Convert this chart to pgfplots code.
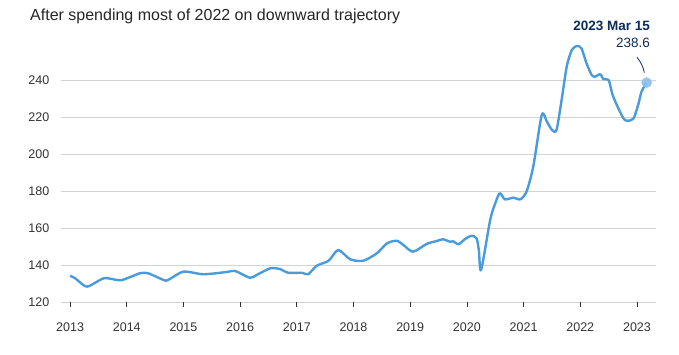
\documentclass[border=0pt]{standalone}
\usepackage{pgfplots}
\pgfplotsset{compat=1.18}
\usepackage{fontspec}
\setmainfont{Liberation Sans}
\definecolor{lineblue}{HTML}{4A9BDC}
\definecolor{dotblue}{HTML}{8CC0EC}
\definecolor{navy}{HTML}{0D2C5C}
\definecolor{gridgray}{HTML}{D3D3D3}
\definecolor{ticktext}{HTML}{333333}
\pgfplotstableread{
year value
2013.00 134.2
2013.09 132.8
2013.26 128.6
2013.35 128.8
2013.59 132.8
2013.76 132.3
2013.91 131.8
2014.23 135.5
2014.38 135.5
2014.65 131.9
2014.73 131.9
2015.00 136.4
2015.35 135.0
2015.76 136.2
2015.91 136.8
2016.17 133.1
2016.29 134.6
2016.53 138.2
2016.70 137.8
2016.85 135.8
2017.09 135.8
2017.20 135.0
2017.35 139.6
2017.56 142.3
2017.73 148.1
2017.94 143.1
2018.17 142.3
2018.41 146.3
2018.59 151.7
2018.76 153.1
2018.88 150.8
2019.05 147.2
2019.29 151.4
2019.47 153.0
2019.58 153.9
2019.70 152.6
2019.76 152.8
2019.85 151.2
2019.97 154.1
2020.08 155.8
2020.17 154.4
2020.21 148.0
2020.25 137.3
2020.41 164.3
2020.50 173.4
2020.58 178.8
2020.67 175.5
2020.82 176.4
2020.94 175.5
2021.05 179.6
2021.17 193.2
2021.32 221.1
2021.41 217.5
2021.50 213.0
2021.58 213.0
2021.67 229.2
2021.76 247.2
2021.85 256.2
2021.94 258.4
2022.02 257.1
2022.11 249.0
2022.20 242.7
2022.26 241.8
2022.35 243.1
2022.41 240.4
2022.50 240.0
2022.58 231.0
2022.76 219.3
2022.85 218.0
2022.94 219.3
2023.02 226.5
2023.08 233.7
2023.17 238.6
}\cpidata
\begin{document}
\begin{tikzpicture}
\useasboundingbox (0,0) rectangle (679bp,355bp);
\node[anchor=base west, inner sep=0, text=black!85, font=\fontsize{16bp}{19bp}\selectfont] at (30bp,334bp) {After spending most of 2022 on downward trajectory};
\begin{axis}[at={(61bp,53bp)}, anchor=south west, scale only axis,
  width=595bp, height=222bp,
  xmin=2012.84, xmax=2023.335, ymin=120, ymax=240, clip=false,
  axis line style={draw=none},
  xtick={2013,...,2023}, ytick={120,140,...,240},
  ymajorgrids, grid style={gridgray, line width=0.9bp},
  xtick pos=bottom, ytick pos=left, tick align=outside, major tick length=4.5bp,
  xtick style={ticktext, line width=0.7bp}, ytick style={draw=none},
  ticklabel style={font=\fontsize{12.5bp}{15bp}\selectfont, text=ticktext, inner sep=0pt},
  /pgf/number format/assume math mode=true,
  /pgf/number format/1000 sep={},
  xticklabel style={anchor=north, yshift=-16bp},
  yticklabel style={anchor=east, xshift=-7bp},
]
\addplot[lineblue, line width=2.4bp, smooth, tension=0.45, line join=round] table[x=year, y=value] {\cpidata};
\addplot[only marks, color=dotblue, mark=*, mark size=5bp, opacity=0.9, mark options={fill=dotblue, draw=dotblue}] coordinates {(2023.17,238.6)};
\node[anchor=base east, inner sep=0, text=navy, font=\fontsize{13.5bp}{16bp}\selectfont\bfseries] at (axis cs:2023.23,266.5) {2023 Mar 15};
\node[anchor=base east, inner sep=0, text=navy, font=\fontsize{13.5bp}{16bp}\selectfont] at (axis cs:2023.23,257.5) {238.6};
\draw[navy, line width=0.8bp] (axis cs:2023.0,252.3) to[bend left=12] (axis cs:2023.13,244.0);
\end{axis}
\end{tikzpicture}
\end{document}
